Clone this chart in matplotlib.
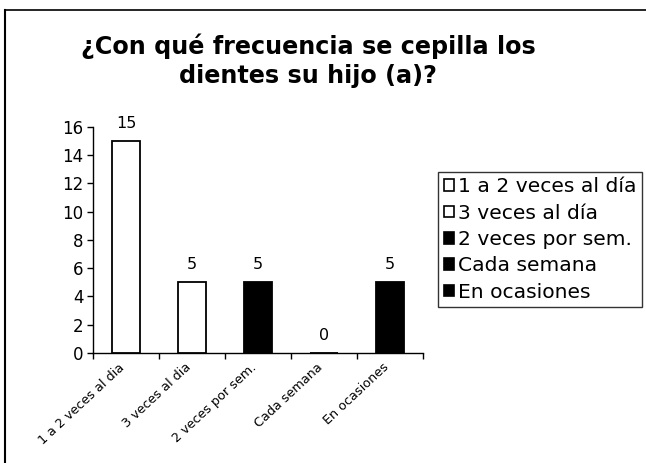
import matplotlib
matplotlib.use('Agg')
import matplotlib.pyplot as plt
from matplotlib.patches import Patch
from matplotlib.lines import Line2D

plt.rcParams['font.family'] = ['DejaVu Sans']

categories = ['1 a 2 veces al día', '3 veces al día', '2 veces por sem.',
              'Cada semana', 'En ocasiones']
tick_labels = ['1 a 2 veces al dia', '3 veces al dia', '2 veces por sem.',
               'Cada semana', 'En ocasiones']
values = [15, 5, 5, 0, 5]
fills = ['white', 'white', 'black', 'black', 'black']

fig = plt.figure(figsize=(6.46, 4.63), dpi=100)
fig.patch.set_facecolor('white')
ax = fig.add_axes([0.144, 0.2376, 0.511, 0.4881])

x = list(range(len(categories)))
ax.bar(x, values, width=0.43, color=fills, edgecolor='black', linewidth=1.3, zorder=3)

for xi, v in zip(x, values):
    ax.annotate(str(v), (xi, v), xytext=(0, 7.5), textcoords='offset points',
                ha='center', va='bottom', fontsize=11.5)

ax.set_xlim(-0.5, len(categories) - 0.5)
ax.set_ylim(0, 16)
ax.set_yticks(range(0, 17, 2))
ax.tick_params(axis='y', labelsize=12, length=4, width=1, direction='out', pad=3)

# category boundary ticks, Excel style
ax.set_xticks([i - 0.5 for i in range(len(categories) + 1)])
ax.set_xticklabels([])
ax.tick_params(axis='x', length=4, width=1, direction='out')
for xi, lab in zip(x, tick_labels):
    ax.text(xi - 0.05, -0.9, lab, rotation=43, rotation_mode='anchor',
            ha='right', va='center', fontsize=9.2)

ax.spines['top'].set_visible(False)
ax.spines['right'].set_visible(False)
ax.spines['left'].set_linewidth(1)
ax.spines['bottom'].set_linewidth(1)

fig.text(0.477, 0.868, '¿Con qué frecuencia se cepilla los\ndientes su hijo (a)?',
         ha='center', va='center', fontsize=17.2, fontweight='bold',
         linespacing=1.25)

handles = [Patch(facecolor=f, edgecolor='black', linewidth=1.2) for f in fills]
leg = fig.legend(handles, categories, loc='upper left',
                 bbox_to_anchor=(0.678, 0.629), bbox_transform=fig.transFigure,
                 fontsize=14.6, frameon=True, fancybox=False, edgecolor='black',
                 handlelength=0.5, handleheight=0.5, handletextpad=0.2,
                 labelspacing=0.36, borderpad=0.28, borderaxespad=0)
leg.get_frame().set_linewidth(1)

# outer chart frame (left and top edges visible)
fig.add_artist(Line2D([0.008, 0.008], [0.0, 0.978], color='black', lw=1.5))
fig.add_artist(Line2D([0.008, 1.0], [0.978, 0.978], color='black', lw=1.2))

plt.savefig('out.png', dpi=100, facecolor='white')
